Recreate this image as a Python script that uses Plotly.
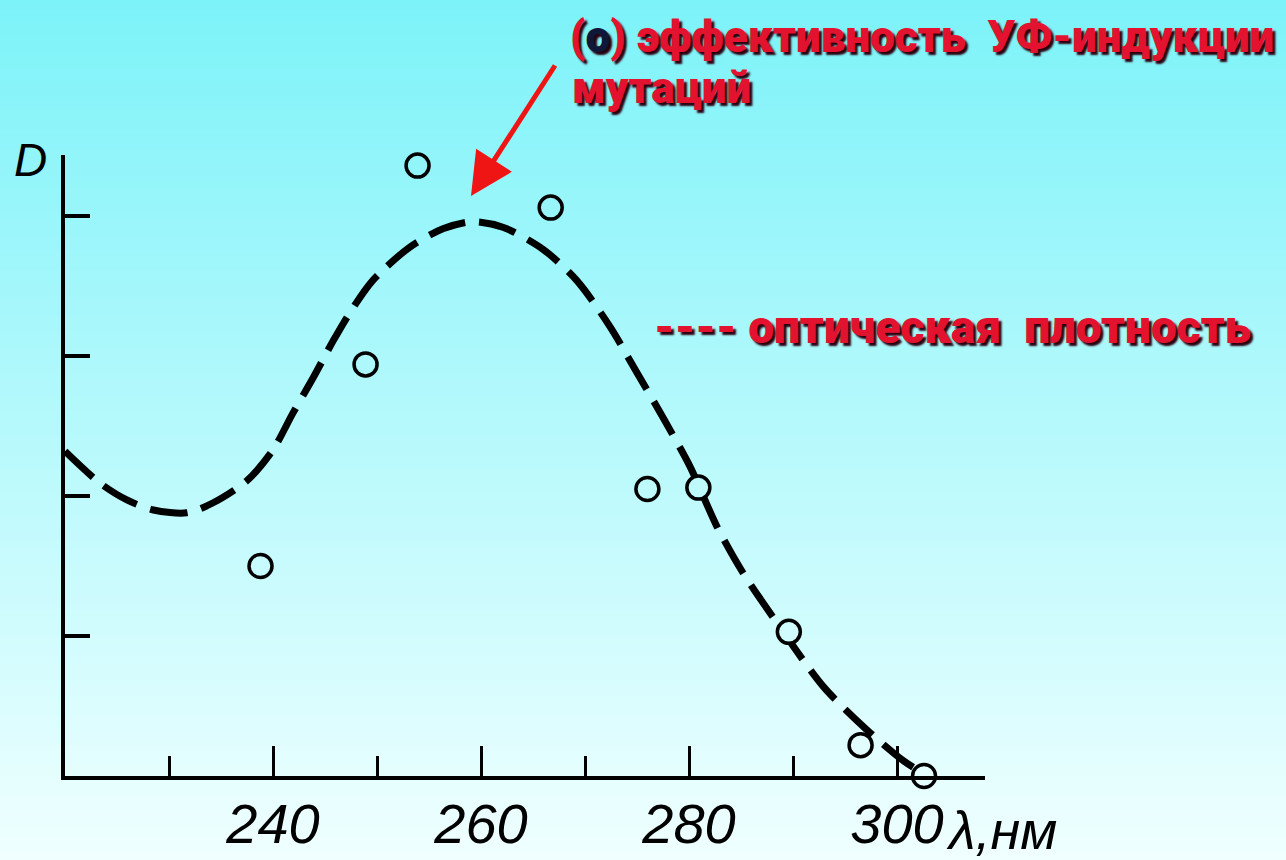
import plotly.graph_objects as go

# ---------------- data ----------------
curve_x = [220.0, 223.4, 226.0, 228.5, 231.7, 234.2, 237.5, 240.0, 241.9, 243.9,
           245.8, 247.4, 249.6, 253.2, 256.4, 259.2, 262.1, 266.0, 269.2, 272.4,
           275.0, 277.5, 280.1, 282.7, 285.2, 288.5, 292.9, 297.1, 300.6, 302.5]
curve_y = [2.32, 2.09, 1.97, 1.90, 1.88, 1.95, 2.11, 2.33, 2.59, 2.85,
           3.11, 3.31, 3.54, 3.78, 3.91, 3.96, 3.92, 3.76, 3.54, 3.21,
           2.88, 2.56, 2.21, 1.78, 1.45, 1.09, 0.64, 0.33, 0.11, 0.02]

pts_x = [238.8, 248.9, 253.9, 266.7, 276.0, 280.9, 289.6, 296.5, 302.6]
pts_y = [1.50, 2.94, 4.36, 4.06, 2.05, 2.06, 1.03, 0.22, 0.00]

major_ticks = [240, 260, 280, 300]
major_labels = ["240", "260", "280", "300"]
minor_ticks = [230, 250, 270, 290]
y_ticks = [1, 2, 3, 4]

title_line1 = "(<span style='color:#10183a'>о</span>) эффективность\u00a0\u00a0УФ-индукции"
title_line2 = "мутаций"
legend_text = "----\u00a0оптическая\u00a0\u00a0плотность"
x_unit = "λ,нм"
y_name = "D"

# ---------------- layout geometry ----------------
W, H = 1286, 860
L, R, T, B = 65, 301, 155, 84
X0, PX_PER_NM = 220.0, 10.4
PX_PER_UNIT = 140.0
plot_w = W - L - R
plot_h = H - T - B
x_range = [X0, X0 + plot_w / PX_PER_NM]
y_range = [0, plot_h / PX_PER_UNIT]

TOP = (124, 243, 249)
BOT = (240, 255, 255)


def bg_rgb(py):
    t = min(max(py / H, 0), 1)
    return tuple(int(round(a + (b - a) * t)) for a, b in zip(TOP, BOT))


def px2paper_x(px):
    return (px - L) / plot_w


def px2paper_y(py):
    return (H - B - py) / plot_h


shapes = []
step = 5
for py in range(-5, H + 5, step):
    c = bg_rgb(py + step / 2)
    shapes.append(dict(type="rect", xref="paper", yref="paper",
                       x0=px2paper_x(-5), x1=px2paper_x(W + 5),
                       y0=px2paper_y(py + step + 1), y1=px2paper_y(py),
                       fillcolor="rgb(%d,%d,%d)" % c, line=dict(width=0),
                       layer="below"))

# marker fill: background colour at each point's height
pt_fill = []
for v in pts_y:
    py = H - B - v * PX_PER_UNIT
    pt_fill.append("rgb(%d,%d,%d)" % bg_rgb(py))

fig = go.Figure()
fig.add_trace(go.Scatter(
    x=curve_x, y=curve_y, mode="lines",
    line=dict(color="black", width=7, dash="38px,14px", shape="spline", smoothing=0.8),
    cliponaxis=False, hoverinfo="skip", showlegend=False))
fig.add_trace(go.Scatter(
    x=pts_x, y=pts_y, mode="markers",
    marker=dict(symbol="circle", size=23, color=pt_fill,
                line=dict(color="black", width=3.5)),
    cliponaxis=False, showlegend=False))

red = "#E3132F"
shadow = "3px 3px 2px #2a0010"
red_font = dict(family="Roboto, DejaVu Sans, sans-serif", size=44, color=red,
                weight=900, shadow=shadow)

annotations = [
    dict(xref="paper", yref="paper", x=px2paper_x(568), y=px2paper_y(37),
         xanchor="left", yanchor="middle", text=title_line1, showarrow=False,
         font=red_font),
    dict(xref="paper", yref="paper", x=px2paper_x(570), y=px2paper_y(88),
         xanchor="left", yanchor="middle", text=title_line2, showarrow=False,
         font=red_font),
    dict(xref="paper", yref="paper", x=px2paper_x(652), y=px2paper_y(327),
         xanchor="left", yanchor="middle", text=legend_text, showarrow=False,
         font=dict(red_font, size=46)),
    dict(xref="paper", yref="paper", x=px2paper_x(944), y=px2paper_y(830),
         xanchor="left", yanchor="middle", text=x_unit, showarrow=False,
         font=dict(family="Liberation Sans, Arial, sans-serif", size=54,
                   color="black", style="italic")),
    dict(xref="paper", yref="paper", x=px2paper_x(30), y=px2paper_y(160),
         xanchor="center", yanchor="middle", text=y_name, showarrow=False,
         font=dict(family="Liberation Sans, Arial, sans-serif", size=46,
                   color="black", style="italic")),
    dict(x=X0 + (471 - L) / PX_PER_NM, y=(H - B - 196) / PX_PER_UNIT,
         xref="x", yref="y", text="", showarrow=True,
         ax=85, ay=-132, axref="pixel", ayref="pixel",
         arrowcolor="#F01515", arrowwidth=5, arrowhead=2, arrowsize=1.7),
]

fig.update_layout(
    width=W, height=H,
    margin=dict(l=L, r=R, t=T, b=B, pad=0, autoexpand=False),
    paper_bgcolor="rgb(%d,%d,%d)" % bg_rgb(430),
    plot_bgcolor="rgba(0,0,0,0)",
    shapes=shapes,
    annotations=annotations,
    showlegend=False,
)

fig.update_xaxes(
    range=x_range, showgrid=False, zeroline=False, automargin=False,
    showline=True, linecolor="black", linewidth=3.5,
    ticks="inside", tickvals=major_ticks, ticktext=major_labels,
    ticklen=30, tickwidth=3, tickcolor="black",
    minor=dict(tickvals=minor_ticks, ticks="inside", ticklen=20,
               tickwidth=3, tickcolor="black", showgrid=False),
    tickfont=dict(family="Liberation Sans, Arial, sans-serif", size=56,
                  color="black", style="italic"),
    ticklabelstandoff=-4,
)
fig.update_yaxes(
    range=y_range, showgrid=False, zeroline=False, automargin=False,
    showline=True, linecolor="black", linewidth=3.5,
    ticks="inside", tickvals=y_ticks, ticklen=25, tickwidth=4,
    tickcolor="black", showticklabels=False,
)

fig.write_html("out.html")
